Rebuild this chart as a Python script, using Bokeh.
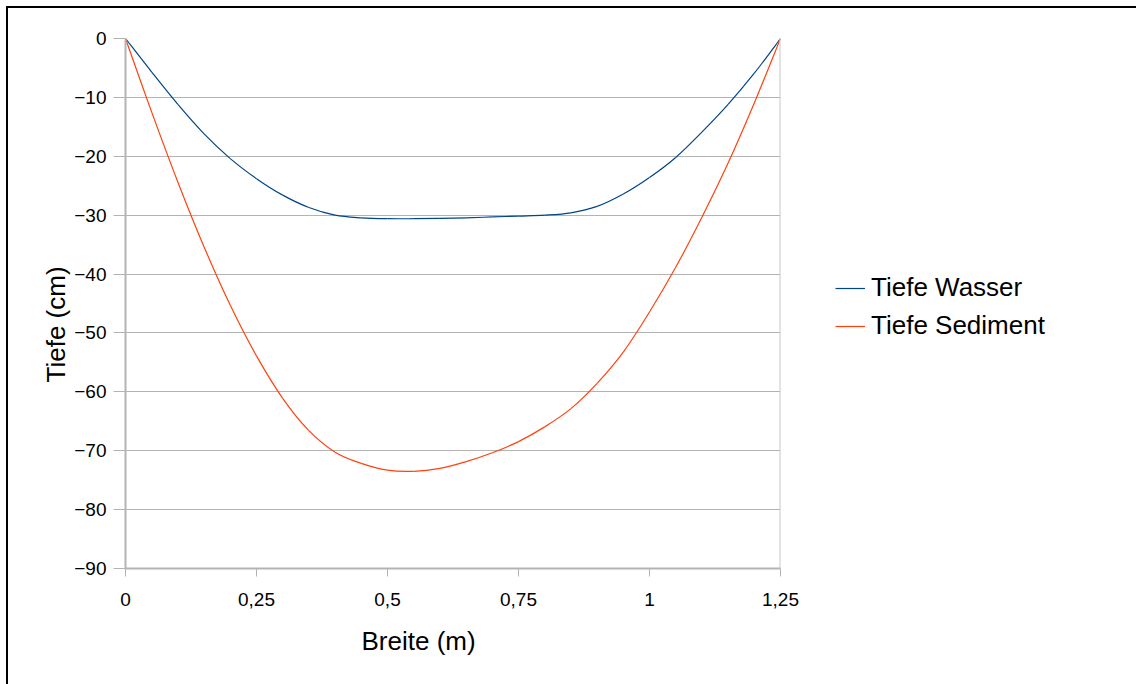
from bokeh.plotting import figure
from bokeh.models import Legend, LegendItem, Title, Span, CustomJSTickFormatter, FixedTicker
from bokeh.embed import file_html
from bokeh.resources import INLINE

# Breite (m) positions
breite = [0.0, 0.05, 0.10, 0.15, 0.20, 0.25, 0.30, 0.35, 0.40, 0.45, 0.50, 0.55, 0.60,
          0.65, 0.70, 0.75, 0.80, 0.85, 0.90, 0.95, 1.00, 1.05, 1.10, 1.15, 1.20, 1.25]
# Tiefe Wasser (cm)
wasser = [0.0, -5.7, -11.2, -16.2, -20.4, -23.8, -26.6, -28.7, -30.0, -30.45, -30.6, -30.6, -30.55,
          -30.45, -30.3, -30.15, -30.0, -29.6, -28.5, -26.4, -23.6, -20.2, -15.9, -11.2, -5.9, 0.0]
# Tiefe Sediment (cm)
sediment = [0.0, -12.5, -24.4, -35.4, -45.3, -53.9, -61.1, -66.6, -70.25, -72.15, -73.3, -73.5, -73.0,
            -71.85, -70.35, -68.45, -65.95, -62.85, -58.55, -53.25, -46.45, -38.85, -30.35, -21.15, -10.95, 0.0]

x_ticks = [0, 0.25, 0.5, 0.75, 1.0, 1.25]
y_ticks = [0, -10, -20, -30, -40, -50, -60, -70, -80, -90]
series_names = ["Tiefe Wasser", "Tiefe Sediment"]
series_colors = ["#004586", "#ff420e"]
x_title = "Breite (m)"
y_title = "Tiefe (cm)"

FONT = "Liberation Sans"


def smooth_segments(xs, ys):
    """Bezier control points of a smooth (Catmull-Rom style) curve through the points."""
    n = len(xs)
    seg = dict(x0=[], y0=[], x1=[], y1=[], cx0=[], cy0=[], cx1=[], cy1=[])
    for i in range(n - 1):
        a = max(i - 1, 0)
        d = min(i + 2, n - 1)
        seg["x0"].append(xs[i]); seg["y0"].append(ys[i])
        seg["x1"].append(xs[i + 1]); seg["y1"].append(ys[i + 1])
        seg["cx0"].append(xs[i] + (xs[i + 1] - xs[a]) / 6.0)
        seg["cy0"].append(ys[i] + (ys[i + 1] - ys[a]) / 6.0)
        seg["cx1"].append(xs[i + 1] - (xs[d] - xs[i]) / 6.0)
        seg["cy1"].append(ys[i + 1] - (ys[d] - ys[i]) / 6.0)
    return seg


p = figure(frame_width=655, frame_height=530,
           min_border_left=117, min_border_top=30, min_border_right=356, min_border_bottom=116,
           x_range=(0, 1.25), y_range=(-90, 0),
           output_backend="svg", toolbar_location=None)
p.margin = (6, 0, 0, 6)
p.styles = {"border-left": "2px solid #000000", "border-top": "2px solid #000000"}
p.outline_line_color = None
p.background_fill_color = "white"
p.border_fill_color = "white"

p.xgrid.visible = False
p.ygrid.ticker = FixedTicker(ticks=y_ticks)
p.ygrid.grid_line_color = "#b3b3b3"
p.ygrid.grid_line_width = 1

p.xaxis.ticker = FixedTicker(ticks=x_ticks)
p.yaxis.ticker = FixedTicker(ticks=y_ticks)
p.xaxis.formatter = CustomJSTickFormatter(code="return tick.toString().replace('.', ',');")
p.yaxis.formatter = CustomJSTickFormatter(code="return tick < 0 ? '\u2212' + Math.abs(tick) : tick.toString();")
p.xaxis.minor_tick_line_color = None
p.yaxis.minor_tick_line_color = None
for ax in (p.xaxis, p.yaxis):
    ax.axis_line_color = "#b3b3b3"
    ax.axis_line_width = 2
    ax.major_tick_line_color = "#b3b3b3"
    ax.major_tick_in = 0
    ax.major_label_text_font = FONT
    ax.major_label_text_font_size = "19px"
    ax.major_label_text_color = "#000000"
p.xaxis.major_tick_out = 8
p.yaxis.major_tick_out = 12
p.xaxis.major_label_standoff = 16
p.yaxis.major_label_standoff = 7

p.add_layout(Span(location=1.25, dimension="height", line_color="#c8c8c8", line_width=2))

legend_items = []
for name, col, ys in zip(series_names, series_colors, [wasser, sediment]):
    p.bezier(source=smooth_segments(breite, ys), x0="x0", y0="y0", x1="x1", y1="y1",
             cx0="cx0", cy0="cy0", cx1="cx1", cy1="cy1", line_color=col, line_width=1.2)
    # legend swatch renderer (kept outside the visible ranges)
    proxy = p.line([5, 6], [50, 50], line_color=col, line_width=1.2)
    legend_items.append(LegendItem(label=name, renderers=[proxy]))

legend = Legend(items=legend_items, location=(55, 227), padding=0, margin=0,
                border_line_color=None, background_fill_alpha=0,
                glyph_width=30, glyph_height=30, label_height=30, spacing=7,
                label_standoff=6, label_text_font=FONT, label_text_font_size="26px",
                label_text_color="#000000")
p.add_layout(legend, "right")

p.add_layout(Title(text=x_title, align="left", offset=236, standoff=31,
                   text_font=FONT, text_font_size="26px", text_font_style="normal",
                   text_color="#000000"), "below")
p.add_layout(Title(text=y_title, align="left", offset=186, standoff=1,
                   text_font=FONT, text_font_size="26px", text_font_style="normal",
                   text_color="#000000"), "left")

open("out.html", "w").write(file_html(p, INLINE))
